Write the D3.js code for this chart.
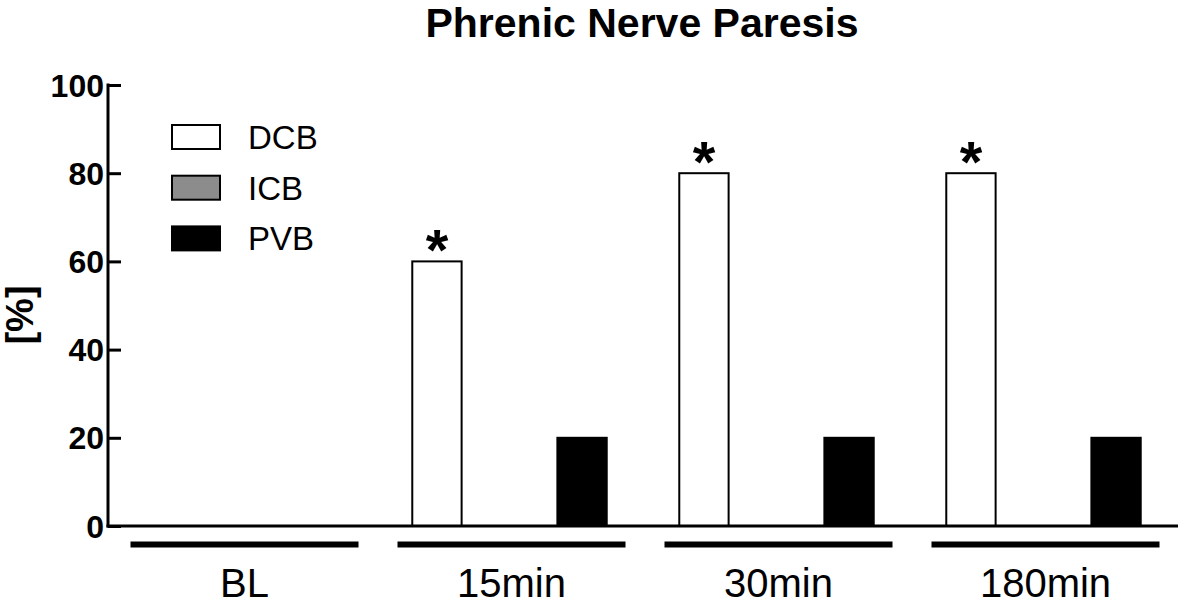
<!DOCTYPE html>
<html><head><meta charset="utf-8">
<script src="https://cdn.jsdelivr.net/npm/d3@7"></script>
<style>body{margin:0;background:#fff}svg{display:block}text{font-family:"Liberation Sans",Arial,sans-serif}</style>
</head><body>
<svg id="c" width="1181" height="604"></svg>
<script>
const categories = ["BL", "15min", "30min", "180min"];
const seriesNames = ["DCB", "ICB", "PVB"];
const DCB = [0, 60, 80, 80];
const ICB = [0, 0, 0, 0];
const PVB = [0, 20, 20, 20];
const significant = [false, true, true, true];
const yTicks = [0, 20, 40, 60, 80, 100];
const colors = {DCB: "#ffffff", ICB: "#8c8c8c", PVB: "#000000"};

const values = {DCB, ICB, PVB};
const svg = d3.select("#c");
const y = d3.scaleLinear().domain([0, 100]).range([526, 85]);
const x0 = d3.scaleBand().domain(categories).range([109, 1177]).paddingInner(0).paddingOuter(0);
const x1 = d3.scaleBand().domain(seriesNames).range([0, x0.bandwidth()]).paddingInner(0.32).paddingOuter(0.5);

// title
svg.append("text").attr("x", 642).attr("y", 37).attr("text-anchor", "middle")
  .attr("font-size", 41).attr("font-weight", "bold").text("Phrenic Nerve Paresis");

// y axis
const yAxis = d3.axisRight(y).tickValues(yTicks).tickSize(13).tickFormat("");
const ga = svg.append("g").attr("transform", "translate(108,0)").call(yAxis);
ga.select(".domain").remove();
ga.selectAll(".tick line").attr("stroke", "#000").attr("stroke-width", 3);
svg.append("line").attr("x1", 108).attr("x2", 108).attr("y1", y(100) - 1.5).attr("y2", y(0) + 1.5)
  .attr("stroke", "#000").attr("stroke-width", 3);
svg.append("g").selectAll("text").data(yTicks).join("text")
  .attr("x", 104).attr("y", d => y(d) + 11.5).attr("text-anchor", "end")
  .attr("font-size", 32).attr("font-weight", "bold").text(d => d);

// y label
svg.append("text").attr("transform", "translate(33,315) rotate(-90)").attr("text-anchor", "middle")
  .attr("font-size", 38).attr("font-weight", "bold").text("[%]");

// bars
const groups = svg.append("g").selectAll("g").data(categories).join("g")
  .attr("transform", d => `translate(${x0(d)},0)`);
groups.selectAll("rect").data((c, i) => seriesNames.map(s => ({s, v: values[s][i]}))).join("rect")
  .attr("x", d => x1(d.s)).attr("width", x1.bandwidth())
  .attr("y", d => y(d.v)).attr("height", d => y(0) - y(d.v))
  .attr("fill", d => colors[d.s])
  .attr("stroke", d => d.v > 0 ? "#000" : "none").attr("stroke-width", 2);

// asterisks
groups.filter((c, i) => significant[i]).append("text")
  .attr("x", x1("DCB") + x1.bandwidth() / 2)
  .attr("y", (c) => y(DCB[categories.indexOf(c)]) + 9)
  .attr("text-anchor", "middle").attr("font-size", 58).attr("font-weight", "bold").text("*");

// x axis line
svg.append("line").attr("x1", 106.5).attr("x2", 1178).attr("y1", y(0)).attr("y2", y(0))
  .attr("stroke", "#000").attr("stroke-width", 3);

// group lines and labels
groups.append("rect").attr("x", x0.bandwidth() / 2 - 112).attr("width", 228)
  .attr("y", 541.5).attr("height", 6).attr("fill", "#000");
groups.append("text").attr("x", x0.bandwidth() / 2 + 2).attr("y", 597)
  .attr("text-anchor", "middle").attr("font-size", 40).text(d => d);

// legend
const leg = svg.append("g").selectAll("g").data(seriesNames).join("g")
  .attr("transform", (d, i) => `translate(172,${125 + i * 50.7})`);
leg.append("rect").attr("width", 48).attr("height", 24).attr("fill", d => colors[d])
  .attr("stroke", "#000").attr("stroke-width", 2);
leg.append("text").attr("x", 76).attr("y", 24).attr("font-size", 33).text(d => d);
</script>
</body></html>
